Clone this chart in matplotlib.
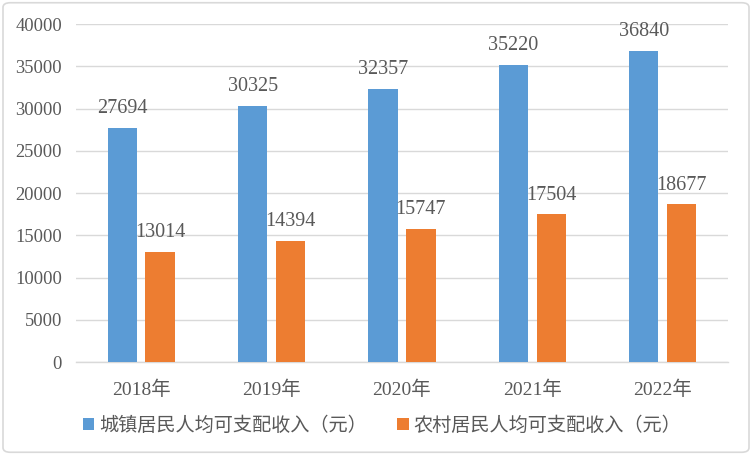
import matplotlib
matplotlib.use("Agg")
import matplotlib.pyplot as plt
import numpy as np
from matplotlib.patches import FancyBboxPatch

years = ["2018年", "2019年", "2020年", "2021年", "2022年"]
urban = [27694, 30325, 32357, 35220, 36840]
rural = [13014, 14394, 15747, 17504, 18677]
series_names = ["城镇居民人均可支配收入（元）", "农村居民人均可支配收入（元）"]

plt.rcParams['font.family'] = ['Liberation Serif', 'Noto Sans CJK SC']
txt = '#595959'
blue = '#5B9BD5'
orange = '#ED7D31'

fig = plt.figure(figsize=(7.52, 4.55), dpi=100)
ax = fig.add_axes([0.101, 0.204, 0.867, 0.743])
x = np.arange(len(years))
w = 0.225
off = 0.145
b1 = ax.bar(x - off, urban, w, color=blue, label=series_names[0], zorder=3)
b2 = ax.bar(x + off, rural, w, color=orange, label=series_names[1], zorder=3)
for bars, vals in ((b1, urban), (b2, rural)):
    for r, v in zip(bars, vals):
        ax.annotate(f"{v}", (r.get_x() + r.get_width() / 2, v), xytext=(0, 7),
                    textcoords='offset points', ha='center', va='bottom',
                    fontsize=14.5, color=txt)
ax.set_xlim(-0.5, len(years) - 0.5)
ax.set_ylim(0, 40000)
ax.set_yticks(range(0, 40001, 5000))
ax.set_xticks(x)
ax.set_xticklabels(years, fontsize=14)
ax.yaxis.grid(True, color='#D9D9D9', linewidth=1, zorder=0)
for s in ['top', 'right', 'left']:
    ax.spines[s].set_visible(False)
ax.spines['bottom'].set_color('#D9D9D9')
ax.spines['bottom'].set_linewidth(1)
ax.tick_params(axis='both', length=0, colors=txt)
ax.tick_params(axis='y', labelsize=13.3, pad=10)
ax.tick_params(axis='x', pad=13)
leg = fig.legend(handles=[b1, b2], loc='center', bbox_to_anchor=(0.508, 0.065), ncol=2,
                 frameon=False, fontsize=13.8, handlelength=0.6, handleheight=0.6,
                 handletextpad=0.25, columnspacing=1.6)
for t in leg.get_texts():
    t.set_color(txt)
border = FancyBboxPatch((0.004, 0.006), 0.992, 0.988, boxstyle="round,pad=0,rounding_size=0.01",
                        transform=fig.transFigure, fill=False, edgecolor='#D9D9D9', linewidth=1.2)
fig.patches.append(border)
fig.savefig("out.png", dpi=100)
